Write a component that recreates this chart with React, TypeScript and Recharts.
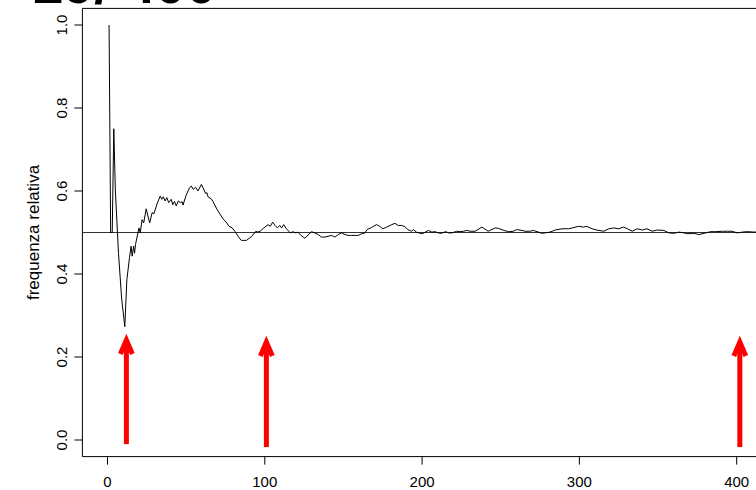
import { LineChart, Line, XAxis, YAxis, ReferenceLine, ReferenceArea } from "recharts";

// number of tosses (x) and relative frequency of heads (y)
const tossN = [
  1, 2, 3, 4, 5, 7, 9, 11, 12.3, 14, 15, 15.7, 16.6, 17.2, 17.8, 20, 20.8, 22, 23, 24.6,
  26.8, 28.4, 29.5, 31.4, 33.5, 34.5, 35.5, 36.6, 37.7, 38.9, 40.5, 41.5, 42.6, 43.7, 45,
  46.3, 47.5, 48, 50, 52.2, 53.3, 54.5, 56, 57.5, 59.7, 62.4, 63.2, 63.9, 66, 67, 69.6,
  73.4, 75.5, 77.2, 79.3, 80.9, 83, 85, 86, 88.3, 89.4, 91.5, 94.3, 95.5, 97, 99.4, 102,
  103.5, 105, 106.5, 108, 109.5, 110.7, 112, 113.7, 116.3, 118, 119.5, 121, 123, 125.5,
  127.5, 129.7, 131.8, 134, 136, 138.2, 140.3, 142.5, 144.6, 146.7, 148.8, 151, 153,
  155.2, 157.4, 159.5, 161.6, 163.7, 165, 167.8, 171, 173, 175, 177.5, 180.7, 182.8,
  184.8, 187, 189, 191, 193.2, 194.6, 196.3, 199.8, 201.2, 204, 206.2, 208.3, 210.4, 212,
  215, 217, 219, 222, 224, 226.3, 228.4, 230.6, 233.7, 238, 242, 246.5, 248.5, 252, 255,
  258, 260, 263.5, 265.5, 268.5, 270.7, 274, 276, 278, 281.3, 284.7, 289, 293, 295.5,
  299.6, 302.6, 304.7, 308, 311, 315.5, 318.7, 322, 325, 328, 330.5, 333.6, 336.7, 340,
  343, 346.2, 349.5, 353.7, 357, 360, 363.3, 366.5, 368.6, 372.8, 376, 379.2, 383.4,
  386.6, 391, 394, 397, 400.4, 403.6, 406.7, 411, 414,
];
const relFreq = [
  1.0, 0.5, 0.5, 0.75, 0.6, 0.45, 0.34, 0.273, 0.386, 0.44, 0.467, 0.443, 0.467, 0.45,
  0.471, 0.511, 0.499, 0.531, 0.523, 0.557, 0.523, 0.548, 0.545, 0.568, 0.588, 0.58,
  0.586, 0.576, 0.584, 0.572, 0.58, 0.567, 0.575, 0.564, 0.576, 0.572, 0.574, 0.566,
  0.59, 0.608, 0.612, 0.604, 0.609, 0.6, 0.616, 0.594, 0.596, 0.586, 0.581, 0.575, 0.556,
  0.533, 0.525, 0.515, 0.511, 0.503, 0.491, 0.481, 0.481, 0.481, 0.484, 0.49, 0.503,
  0.501, 0.503, 0.511, 0.519, 0.515, 0.525, 0.517, 0.511, 0.517, 0.511, 0.519, 0.509,
  0.499, 0.502, 0.499, 0.501, 0.493, 0.486, 0.494, 0.502, 0.499, 0.495, 0.489, 0.489,
  0.491, 0.493, 0.489, 0.495, 0.499, 0.495, 0.493, 0.493, 0.493, 0.493, 0.497, 0.499,
  0.507, 0.512, 0.519, 0.515, 0.509, 0.513, 0.519, 0.522, 0.517, 0.517, 0.514, 0.507,
  0.503, 0.507, 0.501, 0.497, 0.499, 0.505, 0.501, 0.502, 0.499, 0.498, 0.502, 0.499,
  0.499, 0.503, 0.502, 0.503, 0.505, 0.503, 0.503, 0.513, 0.503, 0.511, 0.51, 0.505,
  0.502, 0.503, 0.507, 0.505, 0.503, 0.503, 0.505, 0.501, 0.498, 0.499, 0.501, 0.506,
  0.509, 0.509, 0.511, 0.515, 0.513, 0.515, 0.509, 0.506, 0.503, 0.509, 0.511, 0.509,
  0.513, 0.509, 0.503, 0.509, 0.506, 0.509, 0.503, 0.506, 0.505, 0.499, 0.498, 0.501,
  0.499, 0.497, 0.498, 0.495, 0.498, 0.502, 0.502, 0.503, 0.503, 0.503, 0.499, 0.501,
  0.502, 0.501, 0.501,
];

const xTicks = [0, 100, 200, 300, 400];
const yTicks = [0, 0.2, 0.4, 0.6, 0.8, 1.0];

// red arrows: position on x, where the shaft starts and where the tip is
const arrowAt = [12, 101, 402];
const arrowBase = [-0.01, -0.017, -0.017];
const arrowTip = [0.241, 0.236, 0.236];

const titleText = "29/ 400";
const yLabel = "frequenza relativa";

const FONT = "'Liberation Sans', Arial, Helvetica, sans-serif";
const X_DOMAIN: [number, number] = [-15.96, 440];
const Y_DOMAIN: [number, number] = [-0.04, 1.04];

const data = tossN.map((n, i) => ({ n, f: relFreq[i] }));

const XTick = ({ x, y, payload }: any) => (
  <text x={x} y={y + 20.5} textAnchor="middle" fontSize={15} fontFamily={FONT} fill="#000">
    {payload.value}
  </text>
);

const YTick = ({ x, y, payload }: any) => {
  const bx = x - 5;
  return (
    <text
      x={bx}
      y={y}
      transform={`rotate(-90, ${bx}, ${y})`}
      textAnchor="middle"
      fontSize={15}
      fontFamily={FONT}
      fill="#000"
    >
      {Number(payload.value).toFixed(1)}
    </text>
  );
};

const Arrow = (props: any) => {
  const { x1, y1, x2, y2 } = props;
  const bottom = Math.max(y1, y2);
  const top = Math.min(y1, y2);
  return (
    <g>
      <line x1={x1} y1={bottom} x2={x2} y2={top + 3} stroke="#ff0000" strokeWidth={5} />
      <polyline
        points={`${x2 - 6},${top + 14} ${x2},${top} ${x2 + 6},${top + 14}`}
        fill="none"
        stroke="#ff0000"
        strokeWidth={5}
        strokeLinejoin="miter"
      />
    </g>
  );
};

export default function App() {
  return (
    <div
      style={{
        position: "fixed",
        left: 0,
        top: 0,
        width: 756,
        height: 490,
        overflow: "hidden",
        background: "#fff",
      }}
    >
      <LineChart
        width={840}
        height={490}
        data={data}
        margin={{ top: 8.4, left: 22.4, right: 40.4, bottom: 3.4 }}
      >
        <XAxis
          dataKey="n"
          type="number"
          domain={X_DOMAIN}
          ticks={xTicks}
          allowDataOverflow
          axisLine={false}
          tickLine={{ stroke: "#000" }}
          tickSize={8}
          height={30}
          tick={<XTick />}
        />
        <YAxis
          type="number"
          domain={Y_DOMAIN}
          ticks={yTicks}
          allowDataOverflow
          axisLine={false}
          tickLine={{ stroke: "#000" }}
          tickSize={8}
          width={60}
          tick={<YTick />}
          label={{
            content: ({ viewBox }: any) => {
              const cx = viewBox.x + 17;
              const cy = viewBox.y + viewBox.height / 2;
              return (
                <text
                  x={cx}
                  y={cy}
                  transform={`rotate(-90, ${cx}, ${cy})`}
                  textAnchor="middle"
                  fontSize={17}
                  fontFamily={FONT}
                  fill="#000"
                >
                  {yLabel}
                </text>
              );
            },
          }}
        />
        <ReferenceArea
          x1={X_DOMAIN[0]}
          x2={X_DOMAIN[1]}
          y1={Y_DOMAIN[0]}
          y2={Y_DOMAIN[1]}
          fill="none"
          stroke="#000"
          strokeWidth={1}
        />
        <ReferenceLine y={0.5} stroke="#333" strokeWidth={1} />
        <Line
          dataKey="f"
          stroke="#000"
          strokeWidth={1}
          dot={false}
          isAnimationActive={false}
          type="linear"
        />
        {arrowAt.map((ax, i) => (
          <ReferenceLine
            key={i}
            segment={[
              { x: ax, y: arrowBase[i] },
              { x: ax, y: arrowTip[i] },
            ]}
            shape={<Arrow />}
          />
        ))}
      </LineChart>
      <svg
        width={756}
        height={40}
        style={{ position: "absolute", left: 0, top: 0, overflow: "visible" }}
      >
        <text x={33} y={3} fontSize={55} fontWeight="bold" fontFamily={FONT} fill="#000">
          {titleText}
        </text>
      </svg>
    </div>
  );
}
